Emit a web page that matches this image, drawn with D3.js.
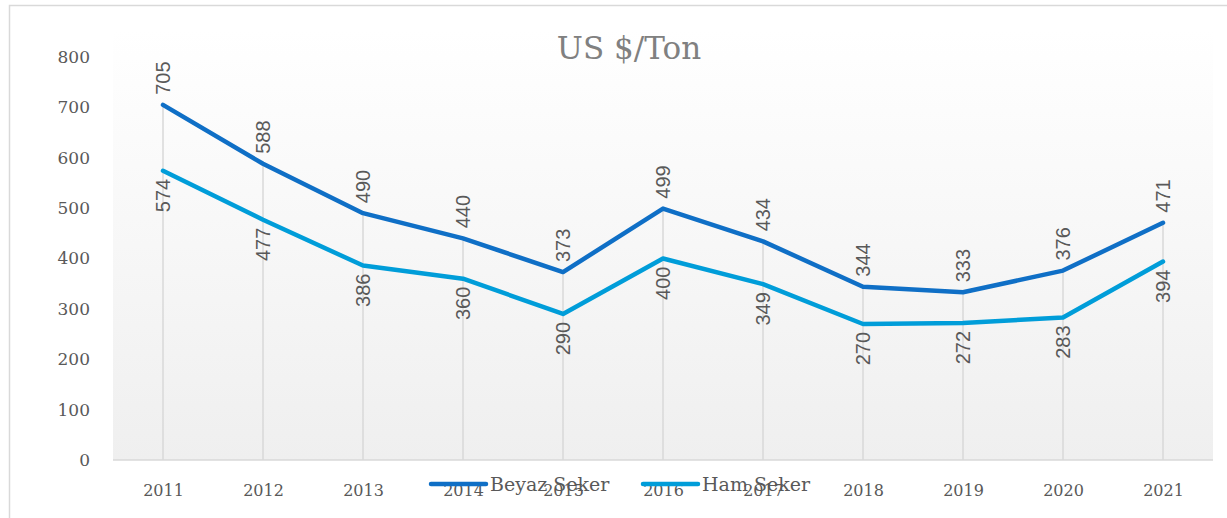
<!DOCTYPE html>
<html>
<head>
<meta charset="utf-8">
<script src="https://cdn.jsdelivr.net/npm/d3@7"></script>
<style>
  body { margin: 0; background: #fff; }
  svg { display: block; }
</style>
</head>
<body>
<svg id="chart" width="1227" height="518"></svg>
<script>
const years = ["2011","2012","2013","2014","2015","2016","2017","2018","2019","2020","2021"];
const beyazSeker = [705, 588, 490, 440, 373, 499, 434, 344, 333, 376, 471];
const hamSeker = [574, 477, 386, 360, 290, 400, 349, 270, 272, 283, 394];
const yTicks = [0, 100, 200, 300, 400, 500, 600, 700, 800];
const seriesNames = ["Beyaz Seker", "Ham Seker"];
const seriesColors = ["#0F6FC6", "#009DD9"];

const svg = d3.select("#chart");
const plot = {left: 113, right: 1213, top: 30, bottom: 460};
const serif = "'DejaVu Serif', serif";
const sans = "'Liberation Sans', Arial, sans-serif";
const textColor = "#595959";

// outer frame
svg.append("rect")
  .attr("x", 9.5).attr("y", 5.5)
  .attr("width", 1240).attr("height", 540)
  .attr("fill", "none").attr("stroke", "#d9d9d9").attr("stroke-width", 1.5);

// plot area gradient
const grad = svg.append("defs").append("linearGradient")
  .attr("id", "bg").attr("x1", 0).attr("y1", 0).attr("x2", 0).attr("y2", 1);
grad.append("stop").attr("offset", "0%").attr("stop-color", "#ffffff");
grad.append("stop").attr("offset", "100%").attr("stop-color", "#efefef");

svg.append("rect")
  .attr("x", plot.left).attr("y", plot.top)
  .attr("width", plot.right - plot.left).attr("height", plot.bottom - plot.top)
  .attr("fill", "url(#bg)");

let x = d3.scalePoint().domain(years).range([plot.left, plot.right]).padding(0.5);
let y = d3.scaleLinear().domain([0, 800]).range([460, 57]);

// title
svg.append("text")
  .attr("x", 629).attr("y", 59)
  .attr("text-anchor", "middle")
  .attr("font-family", serif).attr("font-size", 31)
  .attr("fill", "#808080")
  .text("US $/Ton");

// drop lines from the top series down to baseline
svg.append("g").selectAll("line")
  .data(years)
  .join("line")
  .attr("x1", d => x(d)).attr("x2", d => x(d))
  .attr("y1", (d, i) => y(beyazSeker[i])).attr("y2", y(0))
  .attr("stroke", "#d9d9d9").attr("stroke-width", 1.5);

// baseline
svg.append("line")
  .attr("x1", plot.left).attr("x2", plot.right)
  .attr("y1", y(0)).attr("y2", y(0))
  .attr("stroke", "#d9d9d9").attr("stroke-width", 1.5);

// y axis labels
let yAxis = svg.append("g")
  .attr("transform", `translate(90,0)`)
  .call(d3.axisLeft(y).tickValues(yTicks).tickSize(0).tickPadding(0));
yAxis.select(".domain").remove();
yAxis.selectAll("text")
  .attr("font-family", serif).attr("font-size", 17)
  .attr("fill", textColor);

// x axis labels
let xAxis = svg.append("g")
  .attr("transform", `translate(0,485)`)
  .call(d3.axisBottom(x).tickSize(0).tickPadding(0));
xAxis.select(".domain").remove();
xAxis.selectAll("text")
  .attr("font-family", serif).attr("font-size", 16)
  .attr("fill", textColor);

// lines
const series = [beyazSeker, hamSeker];
const line = d3.line().x((d, i) => x(years[i])).y(d => y(d));

series.forEach((vals, s) => {
  svg.append("path")
    .datum(vals)
    .attr("d", line)
    .attr("fill", "none")
    .attr("stroke", seriesColors[s])
    .attr("stroke-width", 4.5)
    .attr("stroke-linejoin", "round")
    .attr("stroke-linecap", "round");
});

// data labels, rotated
svg.append("g").selectAll("text")
  .data(beyazSeker)
  .join("text")
  .attr("transform", (d, i) => `translate(${x(years[i]) + 7},${y(d) - 10}) rotate(-90)`)
  .attr("text-anchor", "start")
  .attr("font-family", sans).attr("font-size", 20)
  .attr("fill", textColor)
  .text(d => d);

svg.append("g").selectAll("text")
  .data(hamSeker)
  .join("text")
  .attr("transform", (d, i) => `translate(${x(years[i]) + 7},${y(d) + 8}) rotate(-90)`)
  .attr("text-anchor", "end")
  .attr("font-family", sans).attr("font-size", 20)
  .attr("fill", textColor)
  .text(d => d);

// legend (overlaps the year labels, as in the original)
const legendX = [431, 643];
seriesNames.forEach((name, s) => {
  let g = svg.append("g").attr("transform", `translate(${legendX[s]},484)`);
  g.append("line")
    .attr("x1", 0).attr("x2", 55)
    .attr("stroke", seriesColors[s]).attr("stroke-width", 4.5)
    .attr("stroke-linecap", "round");
  g.append("text")
    .attr("x", 59).attr("y", 7)
    .attr("font-family", serif).attr("font-size", 19)
    .attr("fill", textColor)
    .text(name);
});
</script>
</body>
</html>
